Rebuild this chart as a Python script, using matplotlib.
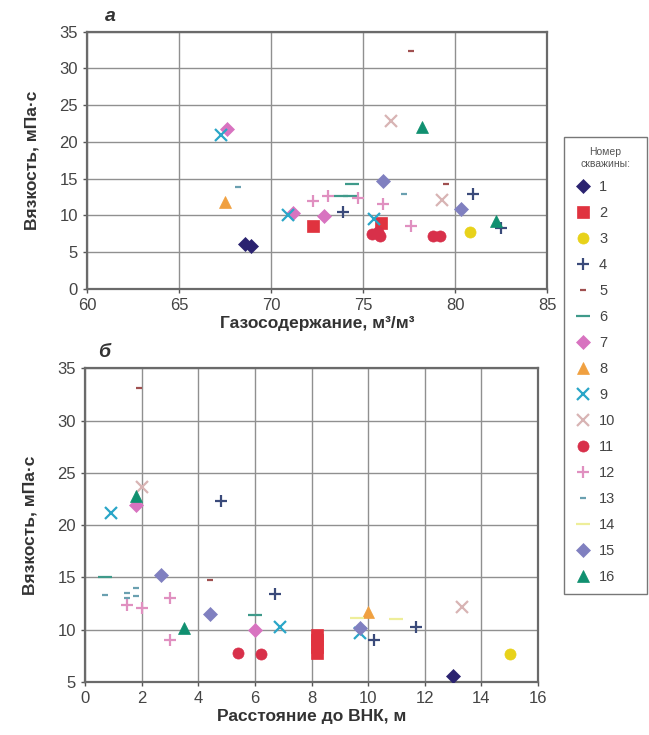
import matplotlib
matplotlib.use("Agg")
import matplotlib.pyplot as plt

plt.rcParams["font.family"] = ["Liberation Sans Narrow", "Liberation Sans", "DejaVu Sans"]

# well styles (legend order 1..16)
WELLS = list(range(1, 17))
COLORS = ["#2b2370", "#e0333f", "#e8d21a", "#3a4a7a", "#a05050", "#3f9a8a",
          "#d873c0", "#f0a040", "#2aa6c8", "#d8b4b4", "#d8304a", "#e090c0",
          "#6aa0b0", "#eeee9a", "#8080c0", "#109070"]
MARKERS = ["D", "s", "o", "+", "_", "_", "D", "^", "x", "x", "o", "+",
           "_", "_", "D", "^"]
SIZES = [7, 9, 8, 9, 5, 10, 7, 8, 8, 8, 8, 9, 5, 10, 7, 8]

# panel a: gas content vs viscosity
well_a = [1, 1, 2, 2, 3, 4, 4, 4, 5, 5, 6, 6, 6, 7, 7, 7, 8, 9, 9, 9, 10, 10,
          11, 11, 11, 11, 11, 12, 12, 12, 12, 12, 13, 13, 15, 15, 16, 16]
gas_a = [68.6, 68.9, 72.3, 76.0, 80.8, 81.0, 73.9, 82.5, 77.6, 79.5, 73.8, 74.3,
         74.4, 67.6, 71.2, 72.9, 67.5, 67.3, 70.9, 75.6, 76.5, 79.3,
         75.5, 75.9, 75.8, 78.8, 79.2, 72.3, 73.1, 74.7, 76.1, 77.6,
         68.2, 77.2, 76.1, 80.3, 78.2, 82.2]
visc_a = [6.1, 5.8, 8.6, 9.0, 7.8, 12.9, 10.5, 8.3, 32.4, 14.2, 12.6, 12.6,
          14.3, 21.7, 10.3, 9.9, 11.8, 21.0, 10.0, 9.5, 22.9, 12.1,
          7.4, 7.2, 7.8, 7.2, 7.2, 12.0, 12.6, 12.4, 11.5, 8.5,
          13.8, 12.9, 14.7, 10.8, 22.0, 9.3]

# panel b: distance to oil-water contact vs viscosity
well_b = [1, 2, 2, 2, 2, 3, 4, 4, 4, 4, 5, 5, 6, 6, 7, 7, 8, 9, 9, 9, 10, 10,
          11, 11, 12, 12, 12, 12, 13, 13, 13, 13, 13, 14, 14, 15, 15, 15, 16, 16]
dist_b = [13.0, 8.2, 8.2, 8.2, 8.2, 15.0, 4.8, 6.7, 10.2, 11.7, 1.9, 4.4,
          0.7, 6.0, 1.8, 6.0, 10.0, 0.9, 6.9, 9.7, 2.0, 13.3,
          5.4, 6.2, 1.5, 2.0, 3.0, 3.0, 0.7, 1.5, 1.5, 1.8, 1.8,
          9.6, 11.0, 2.7, 4.4, 9.7, 1.8, 3.5]
visc_b = [5.6, 7.8, 8.4, 9.0, 9.5, 7.7, 22.3, 13.4, 9.0, 10.3, 33.1, 14.8,
          15.0, 11.4, 21.9, 10.0, 11.7, 21.2, 10.3, 9.7, 23.6, 12.2,
          7.8, 7.7, 12.4, 12.1, 13.0, 9.0, 13.3, 13.5, 13.0, 14.0, 13.2,
          11.1, 11.0, 15.2, 11.5, 10.2, 22.8, 10.2]


def draw_wells(ax, wells, xs, ys):
    handles = []
    for i, w in enumerate(WELLS):
        px = [x for ww, x in zip(wells, xs) if ww == w]
        py = [y for ww, y in zip(wells, ys) if ww == w]
        mew = 1.6 if MARKERS[i] in ("+", "x", "_") else 0.5
        h, = ax.plot(px, py, linestyle="none", marker=MARKERS[i],
                     markersize=SIZES[i], color=COLORS[i], markeredgewidth=mew,
                     label=str(w), zorder=3)
        handles.append(h)
    return handles


def style_axes(ax):
    ax.grid(True, color="#909090", linewidth=1.0)
    ax.set_axisbelow(True)
    for s in ax.spines.values():
        s.set_color("#6a6a6a")
        s.set_linewidth(1.6)
    ax.tick_params(labelsize=12, colors="#555555", length=3, width=1)
    for lab in ax.get_xticklabels() + ax.get_yticklabels():
        lab.set_color("#444444")


fig = plt.figure(figsize=(6.49, 7.35), dpi=100)

ax_a = fig.add_axes([0.134, 0.607, 0.709, 0.350])
draw_wells(ax_a, well_a, gas_a, visc_a)
ax_a.set_xlim(60, 85)
ax_a.set_ylim(0, 35)
ax_a.set_xticks(range(60, 86, 5))
ax_a.set_yticks(range(0, 36, 5))
style_axes(ax_a)
ax_a.set_xlabel("Газосодержание, м³/м³", fontsize=12.5, fontweight="bold",
                color="#333333", labelpad=2)
ax_a.set_ylabel("Вязкость, мПа·с", fontsize=12.5, fontweight="bold",
                color="#333333", labelpad=14)
fig.text(0.170, 0.978, "а", fontsize=14, fontweight="bold", style="italic",
         color="#333333", ha="center", va="center")

ax_b = fig.add_axes([0.131, 0.072, 0.698, 0.427])
handles = draw_wells(ax_b, well_b, dist_b, visc_b)
ax_b.set_xlim(0, 16)
ax_b.set_ylim(5, 35)
ax_b.set_xticks(range(0, 17, 2))
ax_b.set_yticks(range(5, 36, 5))
style_axes(ax_b)
ax_b.set_xlabel("Расстояние до ВНК, м", fontsize=12.5, fontweight="bold",
                color="#333333", labelpad=2)
ax_b.set_ylabel("Вязкость, мПа·с", fontsize=12.5, fontweight="bold",
                color="#333333", labelpad=14)
fig.text(0.160, 0.520, "б", fontsize=14, fontweight="bold", style="italic",
         color="#333333", ha="center", va="center")

leg = fig.legend(handles=handles, loc="upper left",
                 bbox_to_anchor=(0.869, 0.195, 0.128, 0.619), mode="expand",
                 borderaxespad=0.0,
                 fontsize=10.5, title="Номер\nскважины:", title_fontsize=7.5,
                 labelspacing=0.82, handlelength=1.2, handletextpad=0.5,
                 borderpad=0.7, frameon=True, fancybox=False,
                 alignment="center")
leg.get_frame().set_edgecolor("#555555")
leg.get_frame().set_linewidth(1.0)
leg.get_title().set_color("#555555")
leg.get_title().set_multialignment("center")
for t in leg.get_texts():
    t.set_color("#444444")

fig.savefig("out.png", dpi=100)
